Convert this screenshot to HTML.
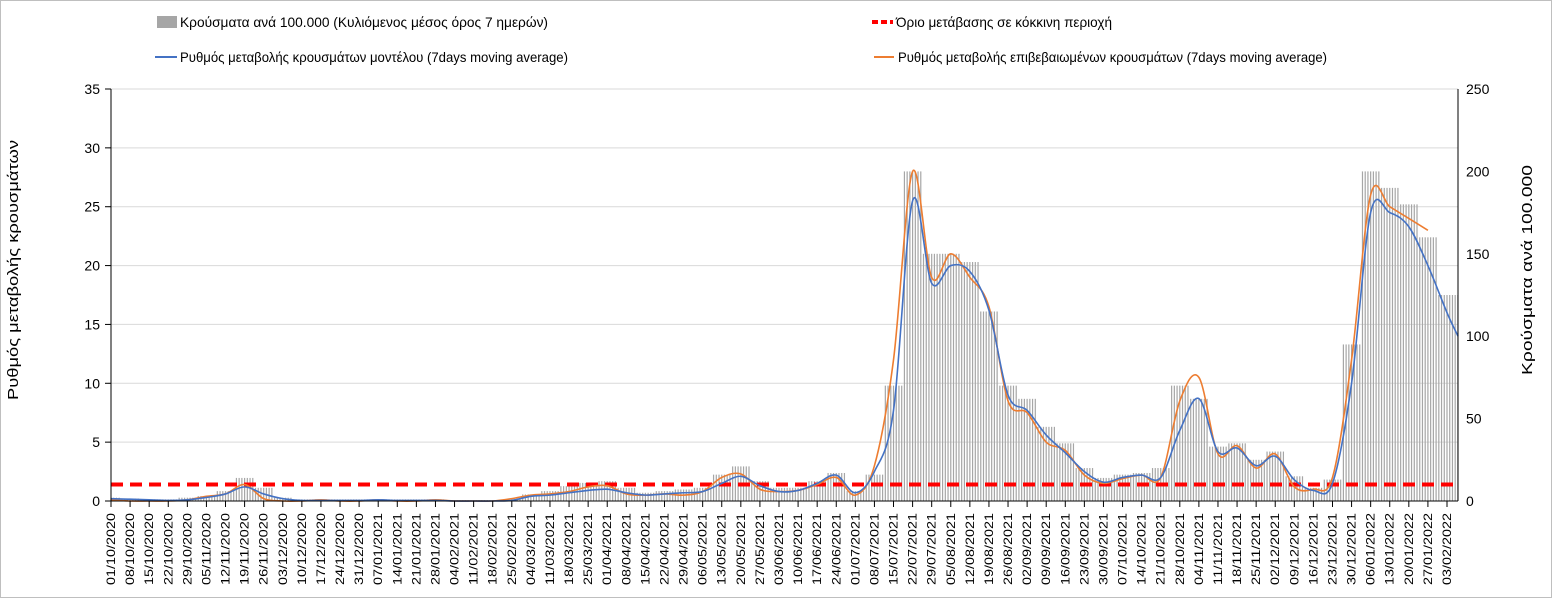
<!DOCTYPE html>
<html><head><meta charset="utf-8"><style>
html,body{margin:0;padding:0;background:#fff}
svg{display:block;font-family:"Liberation Sans",sans-serif}
</style></head><body>
<svg id="chart" width="1553" height="599" viewBox="0 0 1553 599" xmlns="http://www.w3.org/2000/svg">
<rect x="0.5" y="0.5" width="1551" height="597" fill="#fff" stroke="#bfbfbf"/>
<g id="grid"></g><g id="bars"></g><g id="lines"></g><g id="axes"></g>
<g>
 <rect x="157" y="16" width="20" height="12" fill="#a6a6a6"/>
 <text x="180" y="27" font-size="14" textLength="368" lengthAdjust="spacingAndGlyphs">Κρούσματα ανά 100.000 (Κυλιόμενος μέσος όρος 7 ημερών)</text>
 <line x1="872" y1="22" x2="893" y2="22" stroke="#ff0000" stroke-width="4" stroke-dasharray="6,3"/>
 <text x="896" y="27" font-size="14" textLength="216" lengthAdjust="spacingAndGlyphs">Όριο μετάβασης σε κόκκινη περιοχή</text>
 <line x1="155" y1="57" x2="177" y2="57" stroke="#4472c4" stroke-width="2"/>
 <text x="180" y="62" font-size="14" textLength="388" lengthAdjust="spacingAndGlyphs">Ρυθμός μεταβολής κρουσμάτων μοντέλου (7days moving average)</text>
 <line x1="874" y1="57" x2="894" y2="57" stroke="#ed7d31" stroke-width="2"/>
 <text x="898" y="62" font-size="14" textLength="429" lengthAdjust="spacingAndGlyphs">Ρυθμός μεταβολής επιβεβαιωμένων κρουσμάτων (7days moving average)</text>
</g>
<text transform="translate(18,270) rotate(-90)" text-anchor="middle" font-size="15" textLength="260" lengthAdjust="spacingAndGlyphs">Ρυθμός μεταβολής κρουσμάτων</text>
<text transform="translate(1532,270) rotate(-90)" text-anchor="middle" font-size="15" textLength="210" lengthAdjust="spacingAndGlyphs">Κρούσματα ανά 100.000</text>
</svg>
<script>
// weekly data, starting 01/10/2020 (values read at each weekly tick)
const weekLabels = ["01/10/2020","08/10/2020","15/10/2020","22/10/2020","29/10/2020","05/11/2020","12/11/2020","19/11/2020","26/11/2020","03/12/2020","10/12/2020","17/12/2020","24/12/2020","31/12/2020","07/01/2021","14/01/2021","21/01/2021","28/01/2021","04/02/2021","11/02/2021","18/02/2021","25/02/2021","04/03/2021","11/03/2021","18/03/2021","25/03/2021","01/04/2021","08/04/2021","15/04/2021","22/04/2021","29/04/2021","06/05/2021","13/05/2021","20/05/2021","27/05/2021","03/06/2021","10/06/2021","17/06/2021","24/06/2021","01/07/2021","08/07/2021","15/07/2021","22/07/2021","29/07/2021","05/08/2021","12/08/2021","19/08/2021","26/08/2021","02/09/2021","09/09/2021","16/09/2021","23/09/2021","30/09/2021","07/10/2021","14/10/2021","21/10/2021","28/10/2021","04/11/2021","11/11/2021","18/11/2021","25/11/2021","02/12/2021","09/12/2021","16/12/2021","23/12/2021","30/12/2021","06/01/2022","13/01/2022","20/01/2022","27/01/2022","03/02/2022"];
const casesPer100k = [2,1.5,1,1,2,3,6,14,8,2,1,1,1,1,1,1,1,1,0.5,0.5,0.5,1,4,6,9,11,12,8,5,6,7,8,16,21,12,8,8,12,17,6,16,70,200,150,150,145,115,70,62,45,35,20,14,16,17,20,70,62,33,35,25,30,15,8,13,95,200,190,180,160,125];
const modelRate = [0.2,0.15,0.1,0.05,0.1,0.3,0.6,1.2,0.6,0.2,0.05,0.05,0.05,0.05,0.1,0.05,0.05,0.05,0,0,0,0.05,0.4,0.5,0.7,0.9,1.0,0.7,0.5,0.6,0.7,0.8,1.5,2.1,1.3,0.8,0.9,1.5,2.2,0.7,2.5,7.7,25.5,18.5,20,19.5,16.2,9.0,7.7,5.6,4.1,2.5,1.6,2.0,2.2,2.0,6.0,8.7,4.2,4.5,3.0,3.8,1.8,0.9,1.5,10,24.5,24.5,23.3,20,16];
const confirmedRate = [0.1,0,0,0,0.1,0.4,0.6,1.4,0.2,0,0,0.1,0,0,0.1,0,0,0.1,0,0,0,0.2,0.5,0.6,0.8,1.2,1.3,0.6,0.5,0.6,0.5,0.8,2.0,2.3,1.0,0.8,0.9,1.4,2.0,0.5,3.0,12,28,19,21,19,16.5,8.5,7.5,5,4.3,2.2,1.5,1.9,2.2,2.0,8.5,10.5,4.0,4.7,2.8,4.0,1.2,1.0,2.0,12,26,25,24,23];
const thresholdRate = 1.4;
const leftTicks = [0,5,10,15,20,25,30,35];
const rightTicks = [0,50,100,150,200,250];
const totalDays = 494;

const NS="http://www.w3.org/2000/svg";
const X0=111, XR=1458, Y0=501, YT=89;
const pxDay=(1447-X0)/490;
const xDay=d=>X0+d*pxDay;
const yL=v=>Y0-v*(Y0-YT)/35;
const yR=v=>Y0-v*(Y0-YT)/250;
function mk(tag,attrs,parent){const e=document.createElementNS(NS,tag);for(const k in attrs)e.setAttribute(k,attrs[k]);parent.appendChild(e);return e;}
const grid=document.getElementById('grid'),bars=document.getElementById('bars'),lines=document.getElementById('lines'),axes=document.getElementById('axes');

leftTicks.forEach(t=>{
 if(t>0){const g=mk('line',{x1:X0-3,x2:XR,y1:yL(t),y2:yL(t),stroke:'#d9d9d9'},grid);
 
 }
 const tx=mk('text',{x:X0-11,y:yL(t)+5,'text-anchor':'end','font-size':14},axes);
 tx.textContent=t;
 
 
 mk('line',{x1:X0-6,x2:X0,y1:yL(t),y2:yL(t),stroke:'#000'},axes);
});
rightTicks.forEach(t=>{
 const tx=mk('text',{x:XR+8,y:yR(t)+5,'font-size':14},axes);
 tx.textContent=t;
 
 
});

for(let d=0;d<=totalDays;d++){
 const w=Math.min(Math.round(d/7),casesPer100k.length-1);
 const v=casesPer100k[w];
 const b=mk('rect',{x:xDay(d)-0.6,y:yR(v),width:1.2,height:Y0-yR(v),fill:'#a6a6a6'},bars);
 
 
}

function smooth(pts){let s='M'+pts[0][0]+','+pts[0][1];
 for(let i=0;i<pts.length-1;i++){const p0=pts[i-1]||pts[i],p1=pts[i],p2=pts[i+1],p3=pts[i+2]||p2;
  s+=' C'+(p1[0]+(p2[0]-p0[0])/6)+','+(p1[1]+(p2[1]-p0[1])/6)+' '+(p2[0]-(p3[0]-p1[0])/6)+','+(p2[1]-(p3[1]-p1[1])/6)+' '+p2[0]+','+p2[1];}
 return s;}
const bp=modelRate.map((v,i)=>[xDay(i*7),yL(v)]);
bp.push([XR,yL(14)]);
const op=confirmedRate.map((v,i)=>[xDay(i*7),yL(v)]);
const th=mk('line',{x1:X0,x2:XR,y1:yL(thresholdRate),y2:yL(thresholdRate),stroke:'#ff0000','stroke-width':4,'stroke-dasharray':'12,7'},lines);


const ol=mk('path',{d:smooth(op),fill:'none',stroke:'#ed7d31','stroke-width':1.6},lines);


const bl=mk('path',{d:smooth(bp),fill:'none',stroke:'#4472c4','stroke-width':1.6},lines);



mk('line',{x1:X0,x2:X0,y1:YT,y2:Y0,stroke:'#000'},axes);
mk('line',{x1:XR,x2:XR,y1:YT,y2:Y0,stroke:'#000'},axes);
mk('line',{x1:X0,x2:XR,y1:Y0,y2:Y0,stroke:'#000'},axes);
weekLabels.forEach((l,i)=>{
 const x=xDay(i*7);
 mk('line',{x1:x,x2:x,y1:Y0,y2:Y0+6,stroke:'#000'},axes);
 const t=mk('text',{transform:'translate('+(x+4)+',513) rotate(-90)','text-anchor':'end','font-size':12,textLength:72,lengthAdjust:'spacingAndGlyphs'},axes);
 t.textContent=l;
 
 
});
</script>
</body></html>
